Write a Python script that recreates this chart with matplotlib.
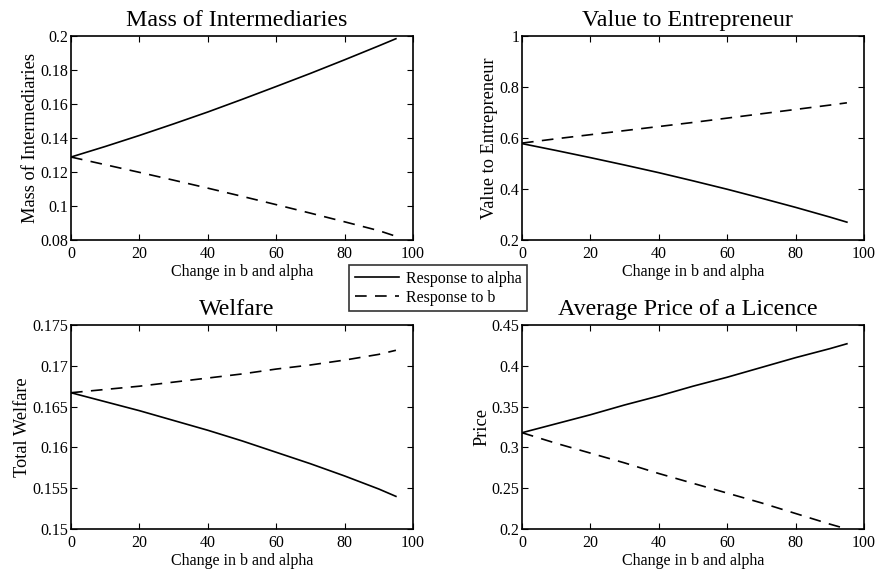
import matplotlib
matplotlib.use('Agg')
import matplotlib.pyplot as plt

plt.rcParams['font.family'] = ['Liberation Serif', 'DejaVu Serif']

x = [0, 10, 20, 30, 40, 50, 60, 70, 80, 90, 95]

mass_alpha = [0.1288, 0.1350, 0.1415, 0.1483, 0.1553, 0.1627, 0.1703, 0.1780, 0.1860, 0.1942, 0.1984]
mass_b = [0.1288, 0.1243, 0.1198, 0.1152, 0.1105, 0.1057, 0.1008, 0.0958, 0.0907, 0.0855, 0.0822]

value_alpha = [0.578, 0.551, 0.523, 0.494, 0.464, 0.432, 0.399, 0.364, 0.328, 0.290, 0.270]
value_b = [0.580, 0.597, 0.613, 0.629, 0.645, 0.661, 0.678, 0.695, 0.712, 0.729, 0.738]

welfare_alpha = [0.1667, 0.1656, 0.1645, 0.1633, 0.1621, 0.1608, 0.1594, 0.1580, 0.1565, 0.1549, 0.1540]
welfare_b = [0.1667, 0.1671, 0.1675, 0.1680, 0.1685, 0.1690, 0.1696, 0.1701, 0.1707, 0.1714, 0.1719]

price_alpha = [0.318, 0.329, 0.340, 0.352, 0.363, 0.375, 0.386, 0.398, 0.410, 0.421, 0.427]
price_b = [0.318, 0.305, 0.293, 0.281, 0.268, 0.256, 0.244, 0.232, 0.219, 0.206, 0.200]

panels = [
    ('Mass of Intermediaries', 'Mass of Intermediaries', mass_alpha, mass_b,
     (0.08, 0.2), [0.08, 0.1, 0.12, 0.14, 0.16, 0.18, 0.2], ['0.08', '0.1', '0.12', '0.14', '0.16', '0.18', '0.2']),
    ('Value to Entrepreneur', 'Value to Entrepreneur', value_alpha, value_b,
     (0.2, 1.0), [0.2, 0.4, 0.6, 0.8, 1.0], ['0.2', '0.4', '0.6', '0.8', '1']),
    ('Welfare', 'Total Welfare', welfare_alpha, welfare_b,
     (0.15, 0.175), [0.15, 0.155, 0.16, 0.165, 0.17, 0.175], ['0.15', '0.155', '0.16', '0.165', '0.17', '0.175']),
    ('Average Price of a Licence', 'Price', price_alpha, price_b,
     (0.2, 0.45), [0.2, 0.25, 0.3, 0.35, 0.4, 0.45], ['0.2', '0.25', '0.3', '0.35', '0.4', '0.45']),
]

W, H = 877, 573
# axes boxes in pixels: left, top, right, bottom
boxes = [(71, 36, 413, 240), (522, 36, 864, 240), (71, 325, 413, 529), (522, 325, 864, 529)]

fig = plt.figure(figsize=(W / 100, H / 100), dpi=100)

for (title, ylabel, ya, yb, ylim, yt, ytl), (l, t, r, b) in zip(panels, boxes):
    ax = fig.add_axes([l / W, 1 - b / H, (r - l) / W, (b - t) / H])
    ax.plot(x, ya, color='black', lw=1.2, label='Response to alpha')
    ax.plot(x, yb, color='black', lw=1.2, ls=(0, (7, 5)), label='Response to b')
    ax.set_xlim(0, 100)
    ax.set_ylim(*ylim)
    ax.set_xticks([0, 20, 40, 60, 80, 100])
    ax.set_yticks(yt)
    ax.set_yticklabels(ytl)
    ax.tick_params(direction='in', top=True, right=True, labelsize=11.5, length=4)
    ax.tick_params(axis='x', pad=4)
    ax.tick_params(axis='y', pad=2)
    for s in ax.spines.values():
        s.set_linewidth(1.2)
    ax.set_title(title, fontsize=17.3, pad=7, x=0.485)
    ax.set_xlabel('Change in b and alpha', fontsize=11.5, labelpad=2)
    ax.set_ylabel(ylabel, fontsize=13.2, labelpad=1)
    if title == 'Mass of Intermediaries':
        handles, labels = ax.get_legend_handles_labels()

leg = fig.legend(handles, labels, loc='upper left',
                 bbox_to_anchor=(349 / W, 1 - 265 / H), fontsize=11.5,
                 frameon=True, fancybox=False, edgecolor='black',
                 borderpad=0.35, borderaxespad=0, handlelength=2.8,
                 handletextpad=0.4, labelspacing=0.2)
leg.get_frame().set_linewidth(1.2)

fig.savefig('out.png', dpi=100)
